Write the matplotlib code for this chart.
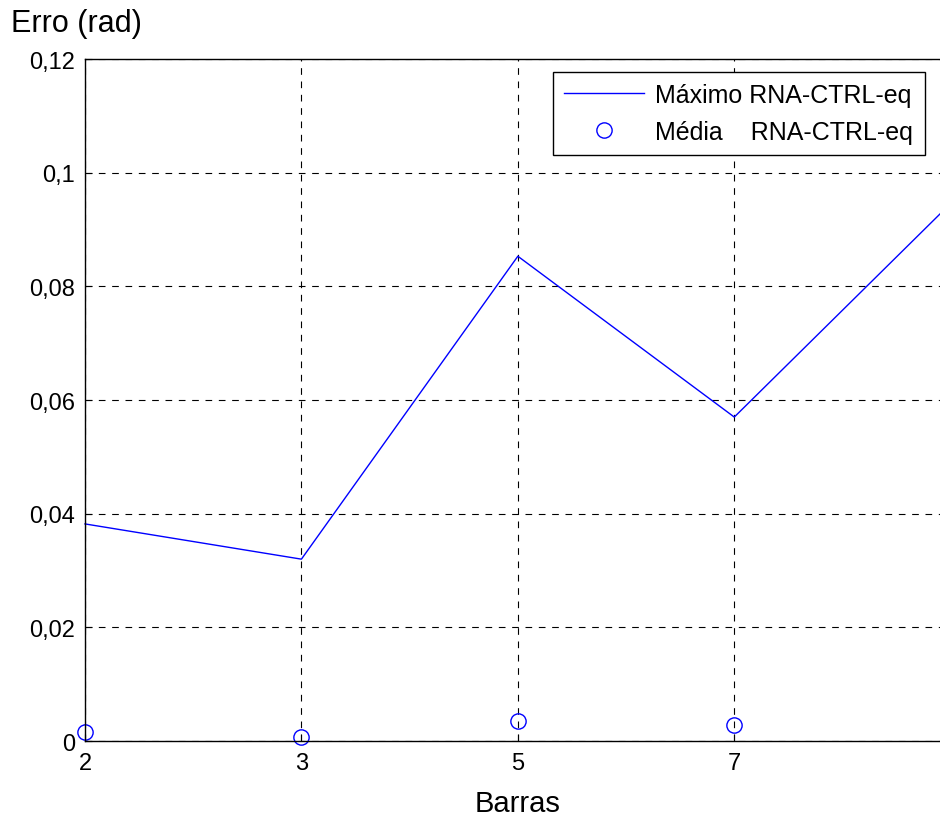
import numpy as np
import matplotlib.pyplot as plt

plt.rcParams['font.family'] = ['Liberation Sans', 'DejaVu Sans']

# Erro por número de barras
barras = ['2', '3', '5', '7', '9']
erro_max = [0.0382, 0.0320, 0.0853, 0.0570, 0.0946]
erro_medio = [0.0016, 0.0007, 0.0035, 0.0028, 0.0030]

x = np.arange(1, len(barras) + 1)

fig = plt.figure(figsize=(9.4, 8.2), dpi=100)
ax = fig.add_axes([0.0904, 0.0951, 0.921, 0.8317])

ax.plot(x, erro_max, color='blue', linewidth=1.0, label='Máximo RNA-CTRL-eq', clip_on=False)
ax.plot(x, erro_medio, 'o', color='blue', markerfacecolor='none', markersize=11,
        markeredgewidth=1.0, label='Média    RNA-CTRL-eq', clip_on=False)

ax.set_xlim(1, 5)
ax.set_ylim(0, 0.12)
ax.set_xticks(x)
ax.set_xticklabels(barras)
yt = [0, 0.02, 0.04, 0.06, 0.08, 0.1, 0.12]
ax.set_yticks(yt)
ax.set_yticklabels(['0', '0,02', '0,04', '0,06', '0,08', '0,1', '0,12'])
ax.tick_params(labelsize=17, direction='in', length=5)
ax.tick_params(axis='y', pad=7)
ax.tick_params(axis='x', pad=8)

ax.grid(True, color='black', linestyle=(0, (6, 6)), linewidth=0.8)
for s in ax.spines.values():
    s.set_linewidth(1.0)

ax.set_xlabel('Barras', fontsize=21, labelpad=11)
fig.text(0.012, 0.952, 'Erro (rad)', fontsize=22, ha='left', va='bottom')

leg = ax.legend(loc='upper left', bbox_to_anchor=(0.5406, 0.981), fontsize=18,
                frameon=True, fancybox=False, edgecolor='black', framealpha=1,
                handlelength=3.2, borderpad=0.45, borderaxespad=0, labelspacing=0.5,
                handletextpad=0.45)
leg.get_frame().set_linewidth(1.0)

fig.savefig('out.png', dpi=100)
